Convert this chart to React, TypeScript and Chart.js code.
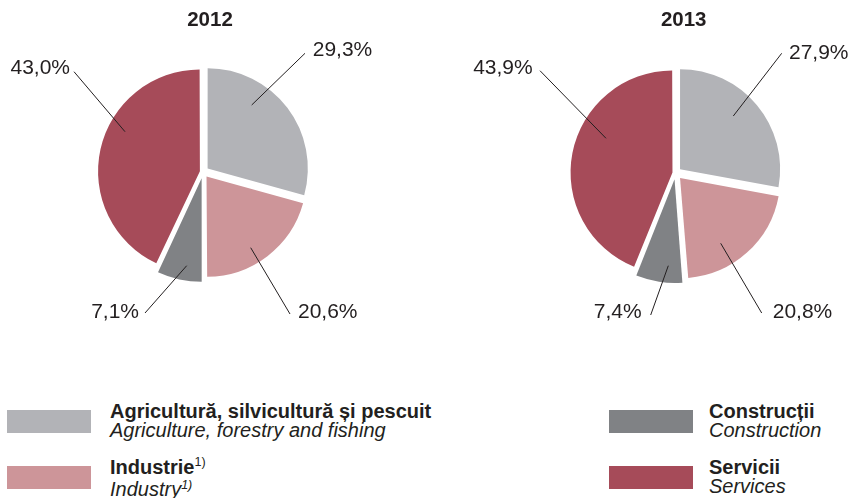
import React, { useEffect, useRef } from 'react';
import { Chart, registerables } from 'chart.js';

Chart.register(...registerables);

// ---------- data ----------
const CATEGORIES_RO = ['Agricultură, silvicultură și pescuit', 'Industrie', 'Construcții', 'Servicii'];
const CATEGORIES_EN = ['Agriculture, forestry and fishing', 'Industry', 'Construction', 'Services'];
const FOOTNOTES = ['', '1)', '', ''];
const YEARS = ['2012', '2013'];
const VALUES_2012 = [29.3, 20.6, 7.1, 43.0];
const VALUES_2013 = [27.9, 20.8, 7.4, 43.9];

// ---------- styles ----------
const COLORS = ['#b2b3b7', '#cd9599', '#808285', '#a64b59'];
const TEXT = '#231f20';
const FONT = '"Liberation Sans", Arial, Helvetica, sans-serif';

type LabelLayout = { inner: number[]; outer: number[]; text: number[]; align: 'left' | 'right' };

// label/leader placement relative to pie centre (units: px at radius 100)
const LAYOUT_2012: LabelLayout[] = [
  { inner: [48.7, -67], outer: [102, -118.7], text: [109.7, -123.5], align: 'left' },
  { inner: [47.7, 75.7], outer: [87, 142], text: [95, 138], align: 'left' },
  { inner: [-16.3, 93.7], outer: [-58, 141], text: [-64, 138], align: 'right' },
  { inner: [-78, -40.3], outer: [-129, -100.3], text: [-133, -106], align: 'right' },
];
const LAYOUT_2013: LabelLayout[] = [
  { inner: [57.8, -57], outer: [106.2, -119.7], text: [113.5, -121.3], align: 'left' },
  { inner: [45.2, 70.3], outer: [86.2, 140], text: [97.2, 137], align: 'left' },
  { inner: [-7.2, 92.7], outer: [-24.8, 142], text: [-33.8, 137], align: 'right' },
  { inner: [-69.5, -34.7], outer: [-135.5, -102.3], text: [-142.8, -106.3], align: 'right' },
];

// desired visual explode distance per slice (px)
const EXPLODE_2012 = [6, 6, 10, 5];
const EXPLODE_2013 = [6, 7, 10, 5];

const RADIUS = 100;

// Chart.js translates an arc by offset/4*(1+fix), fix = 1 - sin(min(PI, circumference))
function offsetsFor(values: number[], explode: number[]) {
  const total = values.reduce((a, b) => a + b, 0);
  return values.map((v, i) => {
    const circ = (v / total) * Math.PI * 2;
    const fix = 1 - Math.sin(Math.min(Math.PI, circ));
    return (explode[i] * 4) / (1 + fix);
  });
}

const fmt = (v: number) => v.toFixed(1).replace('.', ',') + '%';

const pieDecor = {
  id: 'pieDecor',
  afterDatasetsDraw(chart: any, _args: any, opts: any) {
    const ctx = chart.ctx as CanvasRenderingContext2D;
    const meta = chart.getDatasetMeta(0);
    const data = chart.data.datasets[0].data as number[];
    ctx.save();
    ctx.fillStyle = TEXT;
    ctx.font = `bold 20.5px ${FONT}`;
    ctx.textAlign = 'center';
    ctx.textBaseline = 'alphabetic';
    ctx.fillText(opts.title, opts.titleX, opts.titleY + 7.2);

    ctx.font = `21px ${FONT}`;
    ctx.strokeStyle = TEXT;
    ctx.lineWidth = 1;
    meta.data.forEach((arc: any, i: number) => {
      const { x, y, outerRadius } = arc.getProps(['x', 'y', 'outerRadius'], true);
      const k = outerRadius / 100;
      const L: LabelLayout = opts.layout[i];
      ctx.beginPath();
      ctx.moveTo(x + L.inner[0] * k, y + L.inner[1] * k);
      ctx.lineTo(x + L.outer[0] * k, y + L.outer[1] * k);
      ctx.stroke();
      ctx.textAlign = L.align;
      ctx.fillText(fmt(data[i]), x + L.text[0] * k, y + L.text[1] * k + 7.5);
    });
    ctx.restore();
  },
};

type PieProps = {
  values: number[];
  explode: number[];
  layout: LabelLayout[];
  title: string;
  left: number;
  width: number;
  height: number;
  cx: number;
  cy: number;
  titleX: number;
  titleY: number;
};

function PieCanvas(p: PieProps) {
  const ref = useRef<HTMLCanvasElement>(null);
  useEffect(() => {
    if (!ref.current) return;
    const offsets = offsetsFor(p.values, p.explode);
    const maxOff = Math.max(...offsets);
    const half = (2 * RADIUS + maxOff) / 2;
    const chart = new Chart(ref.current, {
      type: 'pie',
      data: {
        labels: CATEGORIES_EN,
        datasets: [
          {
            data: p.values,
            backgroundColor: COLORS,
            borderWidth: 0,
            offset: offsets,
            hoverOffset: 0,
          } as any,
        ],
      },
      options: {
        animation: false,
        responsive: false,
        devicePixelRatio: 1,
        events: [],
        layout: {
          padding: {
            left: p.cx - half,
            right: p.width - p.cx - half,
            top: p.cy - half,
            bottom: p.height - p.cy - half,
          },
        },
        plugins: {
          legend: { display: false },
          tooltip: { enabled: false },
          title: { display: false },
          pieDecor: { title: p.title, titleX: p.titleX, titleY: p.titleY, layout: p.layout },
        } as any,
      },
      plugins: [pieDecor],
    });
    return () => chart.destroy();
  }, []);
  return (
    <canvas
      ref={ref}
      width={p.width}
      height={p.height}
      style={{ position: 'absolute', left: p.left, top: 0, width: p.width, height: p.height }}
    />
  );
}

const LEGEND_SLOTS = [
  { sx: 7, tx: 110, row: 0 },
  { sx: 7, tx: 110, row: 1 },
  { sx: 609, tx: 709, row: 0 },
  { sx: 609, tx: 709, row: 1 },
];

function Legend() {
  return (
    <>
      {CATEGORIES_RO.map((ro, i) => {
        const s = LEGEND_SLOTS[i];
        const rowTop = s.row === 0 ? 0 : 56.3;
        return (
          <React.Fragment key={ro}>
            <div
              style={{
                position: 'absolute',
                left: s.sx,
                top: 410 + rowTop,
                width: 84,
                height: 23,
                background: COLORS[i],
              }}
            />
            <div
              style={{
                position: 'absolute',
                left: s.tx,
                top: 401.6 + rowTop,
                fontSize: 20,
                lineHeight: '19.5px',
                color: TEXT,
                whiteSpace: 'nowrap',
              }}
            >
              <div style={{ fontWeight: 'bold' }}>
                {ro}
                {FOOTNOTES[i] && (
                  <sup style={{ fontSize: 12.5, fontWeight: 'normal', verticalAlign: 0, position: 'relative', top: -8 }}>
                    {FOOTNOTES[i]}
                  </sup>
                )}
              </div>
              <div style={{ fontStyle: 'italic' }}>
                {CATEGORIES_EN[i]}
                {FOOTNOTES[i] && (
                  <sup style={{ fontSize: 12.5, verticalAlign: 0, position: 'relative', top: -7 }}>{FOOTNOTES[i]}</sup>
                )}
              </div>
            </div>
          </React.Fragment>
        );
      })}
    </>
  );
}

export default function App() {
  return (
    <div
      style={{
        position: 'fixed',
        left: 0,
        top: 0,
        width: 853,
        height: 498,
        background: '#ffffff',
        fontFamily: FONT,
        overflow: 'hidden',
      }}
    >
      <PieCanvas
        values={VALUES_2012}
        explode={EXPLODE_2012}
        layout={LAYOUT_2012}
        title={YEARS[0]}
        left={0}
        width={426}
        height={340}
        cx={203}
        cy={172}
        titleX={210}
        titleY={18.3}
      />
      <PieCanvas
        values={VALUES_2013}
        explode={EXPLODE_2013}
        layout={LAYOUT_2013}
        title={YEARS[1]}
        left={426}
        width={427}
        height={340}
        cx={249.5}
        cy={173}
        titleX={257.7}
        titleY={18.3}
      />
      <Legend />
    </div>
  );
}
